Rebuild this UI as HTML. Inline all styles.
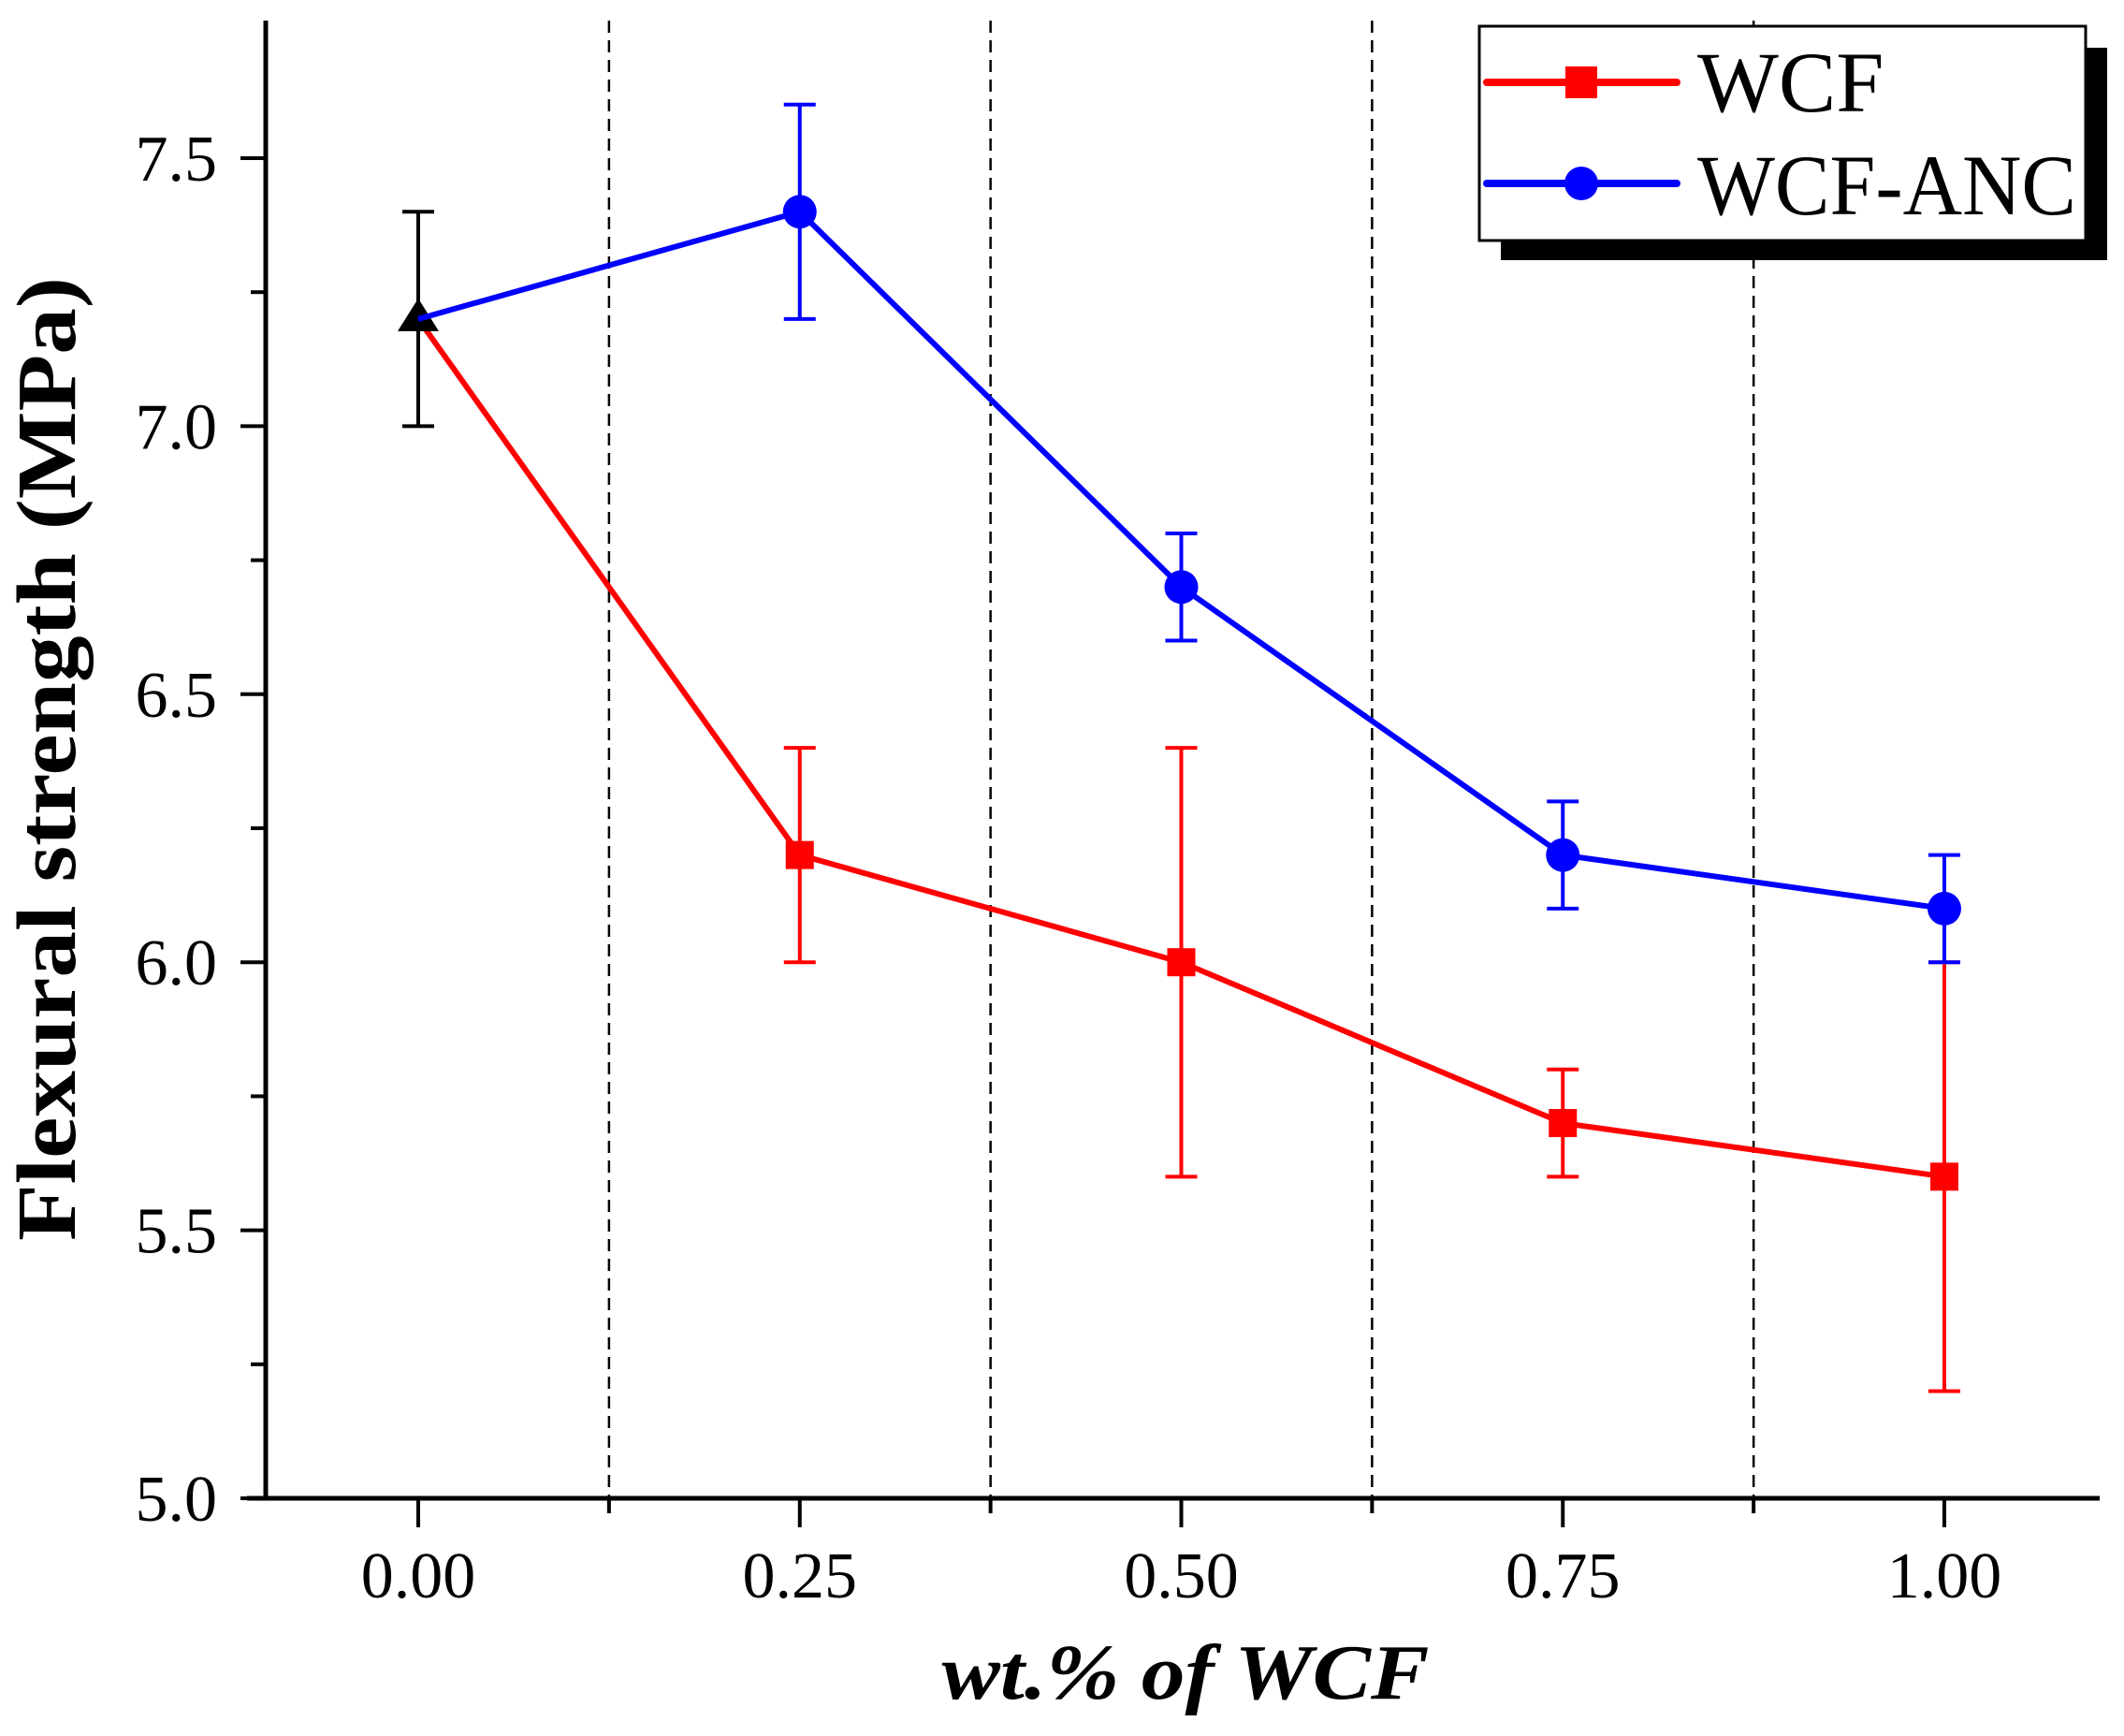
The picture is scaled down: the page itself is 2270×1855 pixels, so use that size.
<!DOCTYPE html>
<html><head><meta charset="utf-8"><style>
html,body{margin:0;padding:0;background:#fff;}
svg{display:block;}
</style></head><body>
<svg id="chart" width="2270" height="1855" viewBox="0 0 2270 1855" xmlns="http://www.w3.org/2000/svg" font-family="'Liberation Serif', serif">
<g id="grid"></g>
<g id="axes"></g>
<g id="series"></g>
<text transform="translate(80,811) rotate(-90)" text-anchor="middle" font-weight="bold" font-size="90" textLength="1030" lengthAdjust="spacingAndGlyphs">Flexural strength (MPa)</text>
<text x="1267" y="1815" text-anchor="middle" font-weight="bold" font-style="italic" font-size="84" textLength="521" lengthAdjust="spacingAndGlyphs">wt.% of WCF</text>
<g>
<rect x="1604" y="51" width="648" height="227" fill="#000"/>
<rect x="1581" y="28" width="648" height="229" fill="#fff" stroke="#000" stroke-width="3"/>
<g>
<line x1="1589" y1="88" x2="1792" y2="88" stroke="#f00" stroke-width="8" stroke-linecap="round"/>
<rect x="1673" y="71" width="34" height="34" fill="#f00"/>
<text x="1814" y="119" font-size="92">WCF</text>
</g>
<g>
<line x1="1589" y1="196" x2="1792" y2="196" stroke="#00f" stroke-width="8" stroke-linecap="round"/>
<circle cx="1690" cy="196" r="18" fill="#00f"/>
<text x="1814" y="229" font-size="92" textLength="405" lengthAdjust="spacingAndGlyphs">WCF-ANC</text>
</g>
</g>
</svg>
<script>
const xCategories = [0, 0.25, 0.5, 0.75, 1.0];
const wcfValues = [7.2, 6.2, 6.0, 5.7, 5.6];
const wcfErrors = [0.2, 0.2, 0.4, 0.1, 0.4];
const ancValues = [7.2, 7.4, 6.7, 6.2, 6.1];
const ancErrors = [0.2, 0.2, 0.1, 0.1, 0.1];
const controlValue = [7.2];
const controlError = [0.2];
const yTickLabels = ["5.0", "5.5", "6.0", "6.5", "7.0", "7.5"];
const xTickLabels = ["0.00", "0.25", "0.50", "0.75", "1.00"];

const NS = "http://www.w3.org/2000/svg";
const L = 284, R = 2244, T = 22, B = 1601;
const xs = v => 447 + (2078 - 447) * v;
const ys = v => 1601 - (v - 5) * 572.8;
function mk(tag, attrs, parent) {
  const e = document.createElementNS(NS, tag);
  for (const k in attrs) e.setAttribute(k, attrs[k]);
  parent.appendChild(e);
  return e;
}
const grid = document.getElementById('grid');
const axes = document.getElementById('axes');
const series = document.getElementById('series');

for (let i = 0; i < xCategories.length - 1; i++) {
  const v = (xCategories[i] + xCategories[i + 1]) / 2;
  const ln = mk('line', {x1: xs(v), x2: xs(v), y1: T, y2: B, stroke: '#000', 'stroke-width': 2.5, 'stroke-dasharray': '13 8'}, grid);
  
  
  const mt = mk('line', {x1: xs(v), x2: xs(v), y1: B, y2: B + 16, stroke: '#000', 'stroke-width': 4}, axes);
  
  
}
const ya = mk('line', {x1: L, x2: L, y1: T, y2: B + 2, stroke: '#000', 'stroke-width': 5}, axes);


const xa = mk('line', {x1: L - 20, x2: R, y1: B, y2: B, stroke: '#000', 'stroke-width': 5}, axes);



yTickLabels.forEach((lab, i) => {
  const v = parseFloat(lab);
  const y = ys(v);
  const t = mk('line', {x1: L - 27, x2: L, y1: y, y2: y, stroke: '#000', 'stroke-width': 4}, axes);
  
  
  if (i < yTickLabels.length - 1) {
    const m = mk('line', {x1: L - 16, x2: L, y1: ys(v + 0.25), y2: ys(v + 0.25), stroke: '#000', 'stroke-width': 4}, axes);
    
    
  }
  const tx = mk('text', {x: 232, y: y + 24, 'text-anchor': 'end', 'font-size': 70}, axes);
  tx.textContent = lab;
  
  
});
xTickLabels.forEach((lab, i) => {
  const x = xs(xCategories[i]);
  const t = mk('line', {x1: x, x2: x, y1: B, y2: B + 31, stroke: '#000', 'stroke-width': 4}, axes);
  
  
  const tx = mk('text', {x: x, y: 1707, 'text-anchor': 'middle', 'font-size': 70}, axes);
  tx.textContent = lab;
  
  
});

function errBar(x, v, e, color, name) {
  const g = mk('g', {stroke: color, 'stroke-width': 4}, series);
  
  
  mk('line', {x1: x, x2: x, y1: ys(v + e), y2: ys(v - e)}, g);
  mk('line', {x1: x - 17, x2: x + 17, y1: ys(v + e), y2: ys(v + e)}, g);
  mk('line', {x1: x - 17, x2: x + 17, y1: ys(v - e), y2: ys(v - e)}, g);
}

for (let i = 1; i < xCategories.length; i++) errBar(xs(xCategories[i]), wcfValues[i], wcfErrors[i], '#f00', 'wcf-error-bar');
const wp = mk('polyline', {points: xCategories.map((c, i) => xs(c) + ',' + ys(wcfValues[i])).join(' '), fill: 'none', stroke: '#f00', 'stroke-width': 6}, series);


for (let i = 1; i < xCategories.length; i++) {
  const r = mk('rect', {x: xs(xCategories[i]) - 15, y: ys(wcfValues[i]) - 15, width: 30, height: 30, fill: '#f00'}, series);
  
  
}
errBar(xs(0), controlValue[0], controlError[0], '#000', 'control-error-bar');
const cx0 = xs(0), cy0 = ys(controlValue[0]);
const tri = mk('polygon', {points: `${cx0},${cy0 - 22} ${cx0 - 22},${cy0 + 13} ${cx0 + 22},${cy0 + 13}`, fill: '#000'}, series);


for (let i = 1; i < xCategories.length; i++) errBar(xs(xCategories[i]), ancValues[i], ancErrors[i], '#00f', 'wcf-anc-error-bar');
const bp = mk('polyline', {points: xCategories.map((c, i) => xs(c) + ',' + ys(ancValues[i])).join(' '), fill: 'none', stroke: '#00f', 'stroke-width': 6}, series);


for (let i = 1; i < xCategories.length; i++) {
  const c = mk('circle', {cx: xs(xCategories[i]), cy: ys(ancValues[i]), r: 18, fill: '#00f'}, series);
  
  
}
</script>
</body></html>
